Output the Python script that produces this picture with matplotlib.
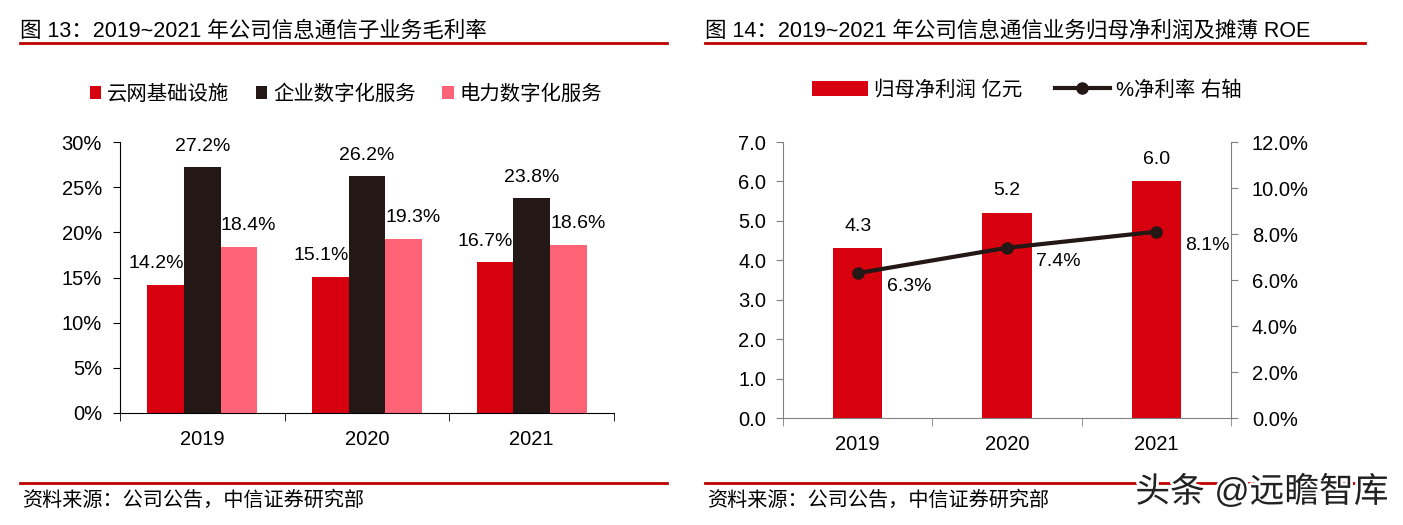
import numpy as np
import matplotlib
matplotlib.use("Agg")
import matplotlib.pyplot as plt
from matplotlib.lines import Line2D
import matplotlib.patheffects as pe

plt.rcParams['font.family'] = ['Liberation Sans', 'Noto Sans CJK SC', 'DejaVu Sans']

# left chart data
years = ['2019', '2020', '2021']
series_names = ['云网基础设施', '企业数字化服务', '电力数字化服务']
margin_cloud = [14.2, 15.1, 16.7]
margin_enterprise = [27.2, 26.2, 23.8]
margin_power = [18.4, 19.3, 18.6]
left_yticks = [0, 5, 10, 15, 20, 25, 30]

# right chart data
profit = [4.3, 5.2, 6.0]
net_margin = [6.3, 7.4, 8.1]
profit_ticks = [0, 1, 2, 3, 4, 5, 6, 7]
margin_ticks = [0, 2, 4, 6, 8, 10, 12]

RED = '#D7000F'
BLACK = '#231815'
PINK = '#FF6376'
W, H = 1403, 525
FS = 14.5

fig = plt.figure(figsize=(W / 100, H / 100), dpi=100)


def box(x0, y0, x1, y1):
    return [x0 / W, 1 - y1 / H, (x1 - x0) / W, (y1 - y0) / H]


def header(x0, x1, title):
    fig.text(x0 / W, 1 - 31 / H, title, fontsize=15.5, va='center', ha='left')
    fig.add_artist(Line2D([x0 / W, x1 / W], [1 - 43 / H, 1 - 43 / H], color='#C00000', lw=2))
    fig.add_artist(Line2D([x0 / W, x1 / W], [1 - 483 / H, 1 - 483 / H], color='#C00000', lw=2))
    fig.text((x0 + 2) / W, 1 - 500 / H, '资料来源：公司公告，中信证券研究部', fontsize=14.5,
             va='center', ha='left')


header(20, 667, '图 13：2019~2021 年公司信息通信子业务毛利率')
header(705, 1365, '图 14：2019~2021 年公司信息通信业务归母净利润及摊薄 ROE')

# ---------- left chart ----------
ax = fig.add_axes(box(120, 142, 614, 413))
x = np.arange(len(years))
bw = 0.222
colors = [RED, BLACK, PINK]
vals = [margin_cloud, margin_enterprise, margin_power]
label_dx = [-7, 0, 7]
for i, (v, c, name) in enumerate(zip(vals, colors, series_names)):
    pos = x + (i - 1) * bw
    ax.bar(pos, v, width=bw, color=c, label=name)
    for p, val in zip(pos, v):
        ax.annotate(f'{val:.1f}%', (p, val), xytext=(label_dx[i], 9), textcoords='offset points',
                    ha='center', va='bottom', fontsize=14)
ax.set_xlim(-0.5, 2.5)
ax.set_ylim(0, 30)
ax.set_yticks(left_yticks)
ax.set_yticklabels([f'{t}%' for t in left_yticks])
ax.set_xticks(x)
ax.set_xticklabels(years)
ax.set_xticks([-0.5, 0.5, 1.5, 2.5], minor=True)
ax.tick_params(axis='x', which='major', length=0, pad=12, labelsize=FS)
ax.tick_params(axis='x', which='minor', length=6, direction='out')
ax.tick_params(axis='y', length=5, direction='out', labelsize=FS, pad=8)
for s in ['top', 'right']:
    ax.spines[s].set_visible(False)
ax.legend(loc='center', bbox_to_anchor=(346 / W, 1 - 94 / H), bbox_transform=fig.transFigure,
          ncol=3, frameon=False, fontsize=14.7, handlelength=0.55, handleheight=0.55,
          handletextpad=0.3, columnspacing=1.3)

# ---------- right chart ----------
ax2 = fig.add_axes(box(783, 142, 1231, 418))
xb = np.arange(len(years))
bars = ax2.bar(xb, profit, width=0.33, color=RED, label='归母净利润 亿元')
for p, val in zip(xb, profit):
    ax2.annotate(f'{val:.1f}', (p, val), xytext=(0, 10), textcoords='offset points',
                 ha='center', va='bottom', fontsize=14)
ax2.set_xlim(-0.5, 2.5)
ax2.set_ylim(0, 7)
ax2.set_yticks(profit_ticks)
ax2.set_yticklabels([f'{t:.1f}' for t in profit_ticks])
ax2.set_xticks(xb)
ax2.set_xticklabels(years)
ax2.set_xticks([-0.5, 0.5, 1.5, 2.5], minor=True)
ax2.tick_params(axis='x', which='major', length=0, pad=12, labelsize=FS)
ax2.tick_params(axis='x', which='minor', length=6, direction='out', color='#808080')
ax2.tick_params(axis='y', length=5, direction='out', labelsize=FS, color='#808080', pad=7)
ax2.spines['top'].set_visible(False)
ax2.spines['right'].set_visible(False)
ax2.spines['left'].set_color('#808080')
ax2.spines['bottom'].set_color('#808080')

ax3 = ax2.twinx()
line, = ax3.plot(xb, net_margin, color=BLACK, lw=3, marker='o', markersize=8,
                 label='%净利率 右轴')
for p, val in zip(xb, net_margin):
    ax3.annotate(f'{val:.1f}%', (p, val), xytext=(21, -10), textcoords='offset points',
                 ha='left', va='center', fontsize=14)
ax3.set_ylim(0, 12)
ax3.set_yticks(margin_ticks)
ax3.set_yticklabels([f'{t:.1f}%' for t in margin_ticks])
ax3.tick_params(axis='y', length=5, direction='out', labelsize=FS, color='#808080', pad=10)
ax3.spines['top'].set_visible(False)
ax3.spines['left'].set_visible(False)
ax3.spines['bottom'].set_visible(False)
ax3.spines['right'].set_color('#808080')

fig.legend([bars, line], ['归母净利润 亿元', '%净利率 右轴'], loc='center',
           bbox_to_anchor=(1027 / W, 1 - 90 / H), ncol=2, frameon=False, fontsize=14.7,
           handlelength=2.7, handleheight=0.8, handletextpad=0.3, columnspacing=1.6)

# watermark
fig.text(1262 / W, 1 - 492 / H, '头条 @远瞻智库', fontsize=25, ha='center', va='center',
         color='#222222', path_effects=[pe.withStroke(linewidth=4, foreground='white')])

fig.savefig('out.png', dpi=100, facecolor='white')
